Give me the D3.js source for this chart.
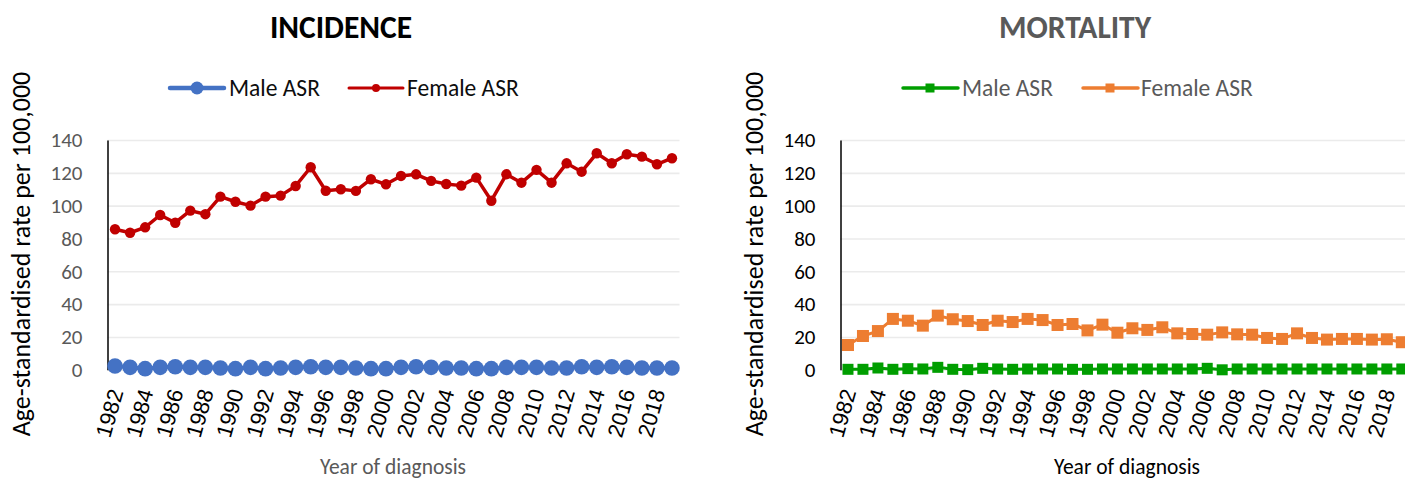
<!DOCTYPE html>
<html><head><meta charset="utf-8">
<script src="https://cdn.jsdelivr.net/npm/d3@7"></script>
<style>
body{margin:0;background:#fff}
svg{display:block}
text{font-family:Carlito,Calibri,Lato,sans-serif}
</style>
</head><body>
<svg id="c" width="1405" height="479"></svg>
<script>
const years = [1982,1983,1984,1985,1986,1987,1988,1989,1990,1991,1992,1993,1994,1995,1996,1997,1998,1999,2000,
  2001,2002,2003,2004,2005,2006,2007,2008,2009,2010,2011,2012,2013,2014,2015,2016,2017,2018,2019];
const tickYears = [1982,1984,1986,1988,1990,1992,1994,1996,1998,2000,2002,2004,2006,2008,2010,2012,2014,2016,2018];
const yTicks = [0,20,40,60,80,100,120,140];

const incidenceMale = [2.3,1.5,0.7,1.5,1.9,1.5,1.5,1.1,0.7,1.5,0.7,1.1,1.5,1.9,1.5,1.5,1.1,0.7,0.7,
  1.5,1.9,1.5,1.1,1.1,0.7,0.7,1.5,1.5,1.5,1.1,1.1,1.9,1.5,1.9,1.5,1.1,1.1,1.1];
const incidenceFemale = [85.6,83.5,86.8,94.3,89.6,97.0,94.8,105.5,102.4,100.0,105.5,106.1,112.0,123.4,109.1,110.0,109.0,116.1,113.0,
  118.1,119.1,115.1,113.2,112.2,117.1,103.0,119.1,114.0,121.8,114.0,125.8,120.7,131.9,125.8,131.3,129.9,125.2,128.9];
const mortalityMale = [0.3,0.3,1.1,0.3,0.7,0.5,1.5,0.3,0.1,0.9,0.5,0.3,0.5,0.5,0.5,0.3,0.3,0.5,0.5,
  0.5,0.5,0.5,0.5,0.5,0.9,0.0,0.5,0.5,0.5,0.5,0.5,0.5,0.5,0.5,0.5,0.5,0.5,0.5];
const mortalityFemale = [15.1,20.6,23.6,31.0,29.9,26.9,33.0,30.8,29.7,27.3,29.9,29.1,31.0,30.3,27.3,27.9,24.0,27.5,22.6,
  25.3,24.3,25.9,22.2,21.8,21.4,22.8,21.6,21.4,19.4,18.8,22.2,19.4,18.4,18.8,18.8,18.4,18.6,16.8];

const svg = d3.select("#c");

const panels = [
  {
    title: "INCIDENCE", titleColor: "#000", titleX: 341, xTitleX: 393,
    x0: 107.5, x1: 679.5,
    tickColor: "#595959", xTitleColor: "#595959", yTitleColor: "#000", legendColor: "#0d0d0d",
    series: [
      {name: "Male ASR", values: incidenceMale, color: "#4472C4", width: 4, marker: "circle", size: 7.8,
       legend: {lx0: 170, lx1: 224, mx: 197, tx: 229, lw: 4.5, ms: 6.5}},
      {name: "Female ASR", values: incidenceFemale, color: "#C00000", width: 3.5, marker: "circle", size: 5.2,
       legend: {lx0: 349, lx1: 403, mx: 376, tx: 407, lw: 3, ms: 4}}
    ]
  },
  {
    title: "MORTALITY", titleColor: "#595959", titleX: 1075, xTitleX: 1127,
    x0: 840.5, x1: 1409.3,
    tickColor: "#000", xTitleColor: "#000", yTitleColor: "#000", legendColor: "#595959",
    series: [
      {name: "Male ASR", values: mortalityMale, color: "#009E00", width: 3, marker: "square", size: 11,
       legend: {lx0: 903, lx1: 958, mx: 930, tx: 962, lw: 3.5, ms: 9}},
      {name: "Female ASR", values: mortalityFemale, color: "#ED7D31", width: 3, marker: "square", size: 12,
       legend: {lx0: 1083, lx1: 1138, mx: 1110, tx: 1141, lw: 3.5, ms: 9}}
    ]
  }
];

const yTop = 140, yBottom = 369.8, legendY = 88;

panels.forEach(p => {
  const g = svg.append("g");
  const x = d3.scalePoint().domain(years).range([p.x0, p.x1]).padding(0.5);
  const y = d3.scaleLinear().domain([0, 140]).range([yBottom, yTop]);

  // gridlines
  const grid = g.append("g").attr("transform", `translate(${p.x0},0)`)
    .call(d3.axisLeft(y).tickValues(yTicks).tickSize(-(Math.min(p.x1, 1405) - p.x0)).tickFormat(""));
  grid.select(".domain").remove();
  grid.selectAll("line").attr("stroke", "#ebebeb").attr("stroke-width", 1.6);

  // y axis
  const ya = g.append("g").attr("transform", `translate(${p.x0},0)`)
    .call(d3.axisLeft(y).tickValues(yTicks).tickSize(0).tickSizeOuter(0).tickPadding(25));
  ya.select(".domain").attr("stroke", "#000").attr("stroke-width", 1.5);
  ya.selectAll("text").attr("font-size", 21).attr("fill", p.tickColor)
    .style("font-family", "Carlito,Calibri,Lato,sans-serif");

  // x axis labels
  const xa = g.append("g").attr("transform", `translate(0,${yBottom})`)
    .call(d3.axisBottom(x).tickValues(tickYears).tickSize(0));
  xa.select(".domain").remove();
  xa.selectAll("text")
    .attr("x", 0).attr("y", 0).attr("dy", 0)
    .attr("text-anchor", "end")
    .attr("transform", "translate(8,22) rotate(-74)")
    .attr("font-size", 22).attr("fill", "#000")
    .style("font-family", "'Liberation Sans',Arial,sans-serif");

  // series
  p.series.forEach(s => {
    const line = d3.line().x((d, i) => x(years[i])).y(d => y(d));
    g.append("path").datum(s.values).attr("d", line)
      .attr("fill", "none").attr("stroke", s.color).attr("stroke-width", s.width)
      .attr("stroke-linejoin", "round");
    if (s.marker === "circle") {
      g.selectAll(null).data(s.values).enter().append("circle")
        .attr("cx", (d, i) => x(years[i])).attr("cy", d => y(d)).attr("r", s.size)
        .attr("fill", s.color);
    } else {
      g.selectAll(null).data(s.values).enter().append("rect")
        .attr("x", (d, i) => x(years[i]) - s.size / 2).attr("y", d => y(d) - s.size / 2)
        .attr("width", s.size).attr("height", s.size).attr("fill", s.color);
    }
    // legend
    const L = s.legend;
    g.append("line").attr("x1", L.lx0).attr("x2", L.lx1).attr("y1", legendY).attr("y2", legendY)
      .attr("stroke", s.color).attr("stroke-width", L.lw).attr("stroke-linecap", "round");
    if (s.marker === "circle") {
      g.append("circle").attr("cx", L.mx).attr("cy", legendY).attr("r", L.ms).attr("fill", s.color);
    } else {
      g.append("rect").attr("x", L.mx - L.ms / 2).attr("y", legendY - L.ms / 2)
        .attr("width", L.ms).attr("height", L.ms).attr("fill", s.color);
    }
    g.append("text").attr("x", L.tx).attr("y", legendY).attr("dy", "0.34em")
      .attr("font-size", 23.5).attr("fill", p.legendColor).text(s.name);
  });

  // title
  g.append("text").attr("x", p.titleX).attr("y", 38).attr("text-anchor", "middle")
    .attr("font-size", 31.5).attr("font-weight", "bold").attr("fill", p.titleColor).text(p.title);

  // axis titles
  g.append("text").attr("transform", `translate(${p.x0 - 78},254) rotate(-90)`)
    .attr("text-anchor", "middle").attr("font-size", 26).attr("fill", p.yTitleColor)
    .text("Age-standardised rate per 100,000");
  g.append("text").attr("x", p.xTitleX).attr("y", 474).attr("text-anchor", "middle")
    .attr("font-size", 21.5).attr("fill", p.xTitleColor).text("Year of diagnosis");
});
</script>
</body></html>
